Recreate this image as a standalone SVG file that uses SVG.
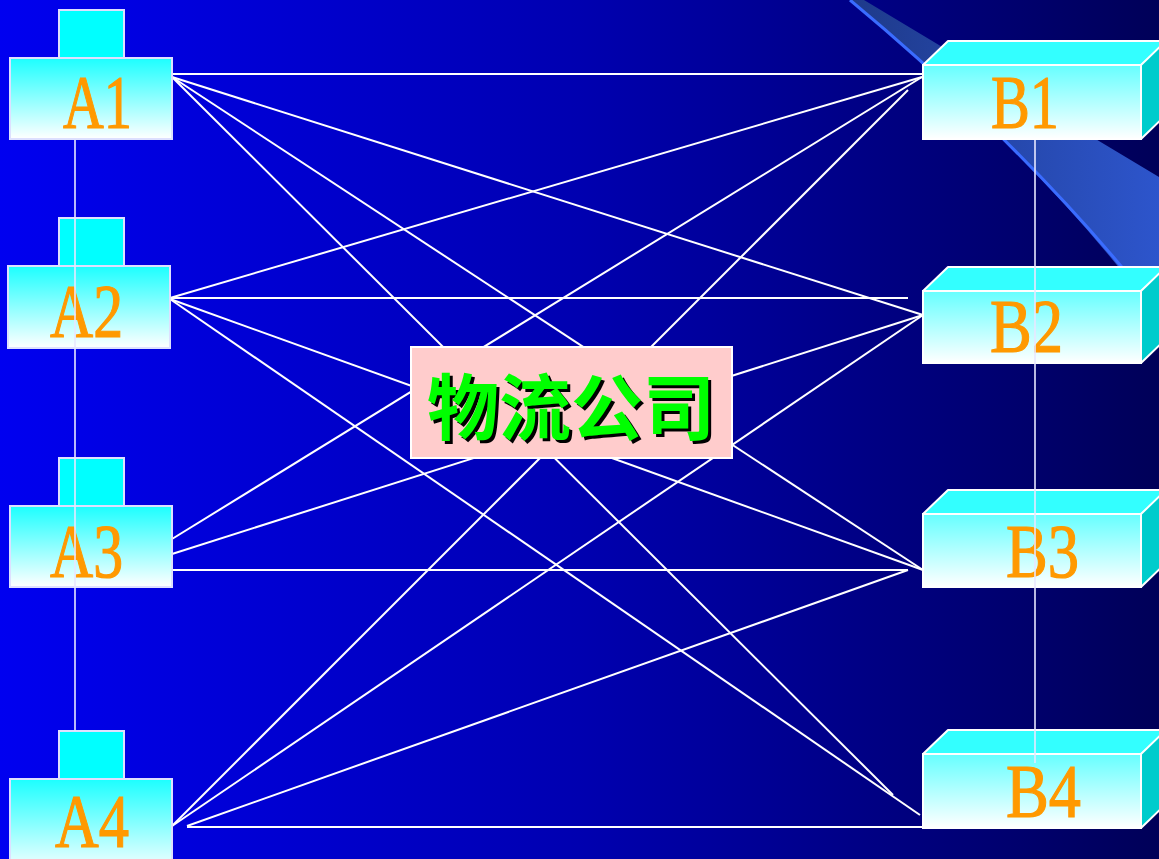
<svg xmlns="http://www.w3.org/2000/svg" width="1159" height="859" viewBox="0 0 1159 859">
  <defs>
    <linearGradient id="bg" x1="0" y1="0" x2="1" y2="0">
      <stop offset="0" stop-color="#0000f0"/>
      <stop offset="0.5" stop-color="#0000b0"/>
      <stop offset="1" stop-color="#000058"/>
    </linearGradient>
    <linearGradient id="beam" x1="0" y1="0" x2="1" y2="0">
      <stop offset="0" stop-color="#1e3a8a"/>
      <stop offset="1" stop-color="#2d55cc"/>
    </linearGradient>
    <linearGradient id="aFace" x1="0" y1="0" x2="0" y2="1">
      <stop offset="0" stop-color="#1cffff"/>
      <stop offset="1" stop-color="#ffffff"/>
    </linearGradient>
    <linearGradient id="bFace" x1="0" y1="0" x2="0" y2="1">
      <stop offset="0" stop-color="#66ffff"/>
      <stop offset="1" stop-color="#ffffff"/>
    </linearGradient>
    <style>
      .cap { fill: #00ffff; stroke: #dde0ff; stroke-width: 2; }
      .abox { fill: url(#aFace); stroke: #dde0ff; stroke-width: 2; }
      .bfront { fill: url(#bFace); stroke: #ffffff; stroke-width: 2; }
      .btop { fill: #33ffff; stroke: #ffffff; stroke-width: 2; stroke-linejoin: round; }
      .bside { fill: #00cccc; stroke: #ffffff; stroke-width: 2; stroke-linejoin: round; }
      .lbl { font-family: "Liberation Serif", "DejaVu Serif", serif; font-size: 76px; fill: #ff9900; stroke: #ff9900; stroke-width: 1.2; }
      .link { stroke: #ffffff; stroke-width: 2; fill: none; }
      .chain { stroke: #e8e8ff; stroke-width: 1.6; fill: none; }
      .cn { font-family: "Noto Sans CJK SC", "Noto Sans CJK JP", sans-serif; font-size: 72px; font-weight: 700; text-anchor: middle; }
    </style>
  </defs>

  <rect x="0" y="0" width="1159" height="859" fill="url(#bg)"/>

  <g id="background-beam">
    <path d="M850,0 L864,0 L1159,177 L1159,300 L1145,300 C1040,165 920,58 850,0 Z" fill="url(#beam)"/>
    <path d="M850,0 C920,58 1040,165 1145,295" fill="none" stroke="#3a6cff" stroke-width="3"/>
  </g>

  <g id="connectors">
    <line class="link" x1="172" y1="74" x2="922" y2="74"/>
    <line class="link" x1="172" y1="77" x2="923" y2="315"/>
    <line class="link" x1="172" y1="77" x2="923" y2="570"/>
    <line class="link" x1="172" y1="77" x2="893" y2="795"/>
    <line class="link" x1="170" y1="298" x2="922" y2="77"/>
    <line class="link" x1="170" y1="298" x2="908" y2="298"/>
    <line class="link" x1="170" y1="299" x2="923" y2="570"/>
    <line class="link" x1="170" y1="299" x2="920" y2="815"/>
    <line class="link" x1="172" y1="539" x2="922" y2="77"/>
    <line class="link" x1="172" y1="554" x2="923" y2="315"/>
    <line class="link" x1="172" y1="570" x2="908" y2="570"/>
    <line class="link" x1="172" y1="826" x2="908" y2="90"/>
    <line class="link" x1="172" y1="826" x2="923" y2="315"/>
    <line class="link" x1="187" y1="826" x2="908" y2="570"/>
    <line class="link" x1="187" y1="827" x2="923" y2="827"/>
  </g>

  <g id="center">
    <rect x="411" y="347" width="321" height="111" fill="#ffcccc" stroke="#ffffff" stroke-width="2"/>
    <text class="cn" x="574" y="437" fill="#000000">物流公司</text>
    <text class="cn" x="571" y="434" fill="#00ff00">物流公司</text>
  </g>

  <g id="A1">
    <rect class="cap" x="59" y="10" width="65" height="48"/>
    <rect class="abox" x="10" y="58" width="162" height="81"/>
    <text class="lbl" x="63" y="128" textLength="69" lengthAdjust="spacingAndGlyphs">A1</text>
  </g>
  <g id="A2">
    <rect class="cap" x="59" y="218" width="65" height="48"/>
    <rect class="abox" x="8" y="266" width="162" height="82"/>
    <text class="lbl" x="50" y="337" textLength="73" lengthAdjust="spacingAndGlyphs">A2</text>
  </g>
  <g id="A3">
    <rect class="cap" x="59" y="458" width="65" height="48"/>
    <rect class="abox" x="10" y="506" width="162" height="81"/>
    <text class="lbl" x="50" y="577" textLength="73" lengthAdjust="spacingAndGlyphs">A3</text>
  </g>
  <g id="A4">
    <rect class="cap" x="59" y="731" width="65" height="48"/>
    <rect class="abox" x="10" y="779" width="162" height="95"/>
    <text class="lbl" x="55" y="847" textLength="74" lengthAdjust="spacingAndGlyphs">A4</text>
  </g>

  <g id="B1">
    <polygon class="btop" points="923,65 948,41 1170,41 1141,65"/>
    <polygon class="bside" points="1141,65 1166,41 1166,115 1141,139"/>
    <rect class="bfront" x="923" y="65" width="218" height="74"/>
    <text class="lbl" x="991" y="128" textLength="68" lengthAdjust="spacingAndGlyphs">B1</text>
  </g>
  <g id="B2">
    <polygon class="btop" points="923,291 948,267 1170,267 1141,291"/>
    <polygon class="bside" points="1141,291 1166,267 1166,339 1141,363"/>
    <rect class="bfront" x="923" y="291" width="218" height="72"/>
    <text class="lbl" x="990" y="352" textLength="73" lengthAdjust="spacingAndGlyphs">B2</text>
  </g>
  <g id="B3">
    <polygon class="btop" points="923,514 948,490 1170,490 1141,514"/>
    <polygon class="bside" points="1141,514 1166,490 1166,563 1141,587"/>
    <rect class="bfront" x="923" y="514" width="218" height="73"/>
    <text class="lbl" x="1006" y="577" textLength="73" lengthAdjust="spacingAndGlyphs">B3</text>
  </g>
  <g id="B4">
    <polygon class="btop" points="923,754 948,730 1170,730 1141,754"/>
    <polygon class="bside" points="1141,754 1166,730 1166,804 1141,828"/>
    <rect class="bfront" x="923" y="754" width="218" height="74"/>
    <text class="lbl" x="1006" y="817" textLength="75" lengthAdjust="spacingAndGlyphs">B4</text>
  </g>

  <g id="chain-connectors">
    <line class="chain" x1="75" y1="140" x2="75" y2="731"/>
    <line class="chain" x1="1035" y1="140" x2="1035" y2="763"/>
  </g>
</svg>
